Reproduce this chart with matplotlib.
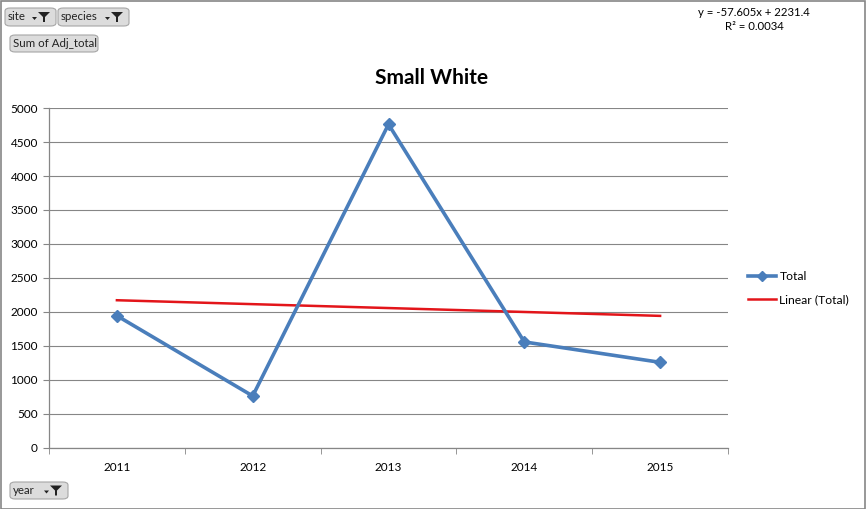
import numpy as np
import matplotlib.pyplot as plt
from matplotlib.patches import FancyBboxPatch, Rectangle, Polygon

plt.rcParams['font.family'] = ['Lato', 'DejaVu Sans']

years = ['2011', '2012', '2013', '2014', '2015']
totals = [1945, 765, 4760, 1560, 1260]
y_ticks = [0, 500, 1000, 1500, 2000, 2500, 3000, 3500, 4000, 4500, 5000]

W, H = 866, 509
fig = plt.figure(figsize=(W / 100, H / 100), dpi=100)

# plot area (pixel coords from the reference)
L, R, T, B = 49, 728, 108, 448
ax = fig.add_axes([L / W, (H - B) / H, (R - L) / W, (B - T) / H])

x = np.arange(1, len(years) + 1)
ax.plot(x, totals, color='#4a7ebb', lw=2.6, marker='D', ms=6,
        markeredgecolor='#4a7ebb', zorder=3, label='Total')

# linear trend
k, b = np.polyfit(x, totals, 1)
ax.plot(x, k * x + b, color='#e3151a', lw=1.8, zorder=2, label='Linear (Total)')

ax.set_xlim(0.5, len(years) + 0.5)
ax.set_ylim(0, 5000)
ax.set_yticks(y_ticks)
ax.set_yticklabels([str(v) for v in y_ticks], fontsize=8.5)
ax.set_xticks(x)
ax.set_xticklabels(years, fontsize=8.5)
ax.set_xticks(np.arange(0.5, len(years) + 1), minor=True)
ax.tick_params(axis='x', which='major', length=0, pad=10)
ax.tick_params(axis='x', which='minor', length=4, color='#868686', direction='out')
ax.tick_params(axis='y', length=4, color='#868686', pad=4)
ax.yaxis.grid(True, color='#868686', lw=0.8)
ax.set_axisbelow(True)
for s in ['top', 'right']:
    ax.spines[s].set_visible(False)
for s in ['left', 'bottom']:
    ax.spines[s].set_color('#868686')
    ax.spines[s].set_linewidth(0.9)

fig.text(432 / W, 1 - 78 / H, 'Small White', ha='center', va='center',
         fontsize=15, fontweight='bold')

leg = fig.legend(*ax.get_legend_handles_labels(), loc='upper left',
                 bbox_to_anchor=(748 / W, 1 - 271 / H), frameon=False,
                 fontsize=8.7, handlelength=2.3, handletextpad=0.3,
                 labelspacing=1.05, borderpad=0, borderaxespad=0, markerscale=0.8)

fig.text(754 / W, 1 - 12 / H, 'y = -57.605x + 2231.4', ha='center', va='center', fontsize=8.2)
fig.text(754 / W, 1 - 27 / H, 'R² = 0.0034', ha='center', va='center', fontsize=8.2)


def button(x0, y0, x1, y1, label, funnel=True):
    w, h = (x1 - x0) / W, (y1 - y0) / H
    p = FancyBboxPatch((x0 / W, 1 - y1 / H), w, h,
                       boxstyle='round,pad=0,rounding_size=0.006',
                       transform=fig.transFigure, facecolor='#dcdcdc',
                       edgecolor='#a6a6a6', lw=0.8)
    fig.patches.append(p)
    fig.text((x0 + 3) / W, 1 - (y0 + y1) / 2 / H, label, ha='left', va='center',
             fontsize=8.3, color='#222222')
    if funnel:
        cy = (y0 + y1) / 2
        fx = x1 - 12
        pts = [(fx - 6, cy - 5), (fx + 6, cy - 5), (fx + 1, cy), (fx + 1, cy + 5),
               (fx - 1, cy + 5), (fx - 1, cy)]
        fig.patches.append(Polygon([(px / W, 1 - py / H) for px, py in pts],
                                   closed=True, transform=fig.transFigure,
                                   facecolor='#222222', edgecolor='none'))
        ar = [(fx - 12, cy), (fx - 7, cy), (fx - 9.5, cy + 3)]
        fig.patches.append(Polygon([(px / W, 1 - py / H) for px, py in ar],
                                   closed=True, transform=fig.transFigure,
                                   facecolor='#222222', edgecolor='none'))


button(5, 8, 56, 26, 'site')
button(58, 8, 129, 26, 'species')
button(10, 35, 98, 52, 'Sum of Adj_total', funnel=False)
button(10, 482, 68, 499, 'year')

fig.patches.append(Rectangle((0.5 / W, 0.5 / H), 1 - 1.5 / W, 1 - 1.5 / H,
                             transform=fig.transFigure, fill=False,
                             edgecolor='#868686', lw=1.2))

fig.savefig('out.png', dpi=100)
